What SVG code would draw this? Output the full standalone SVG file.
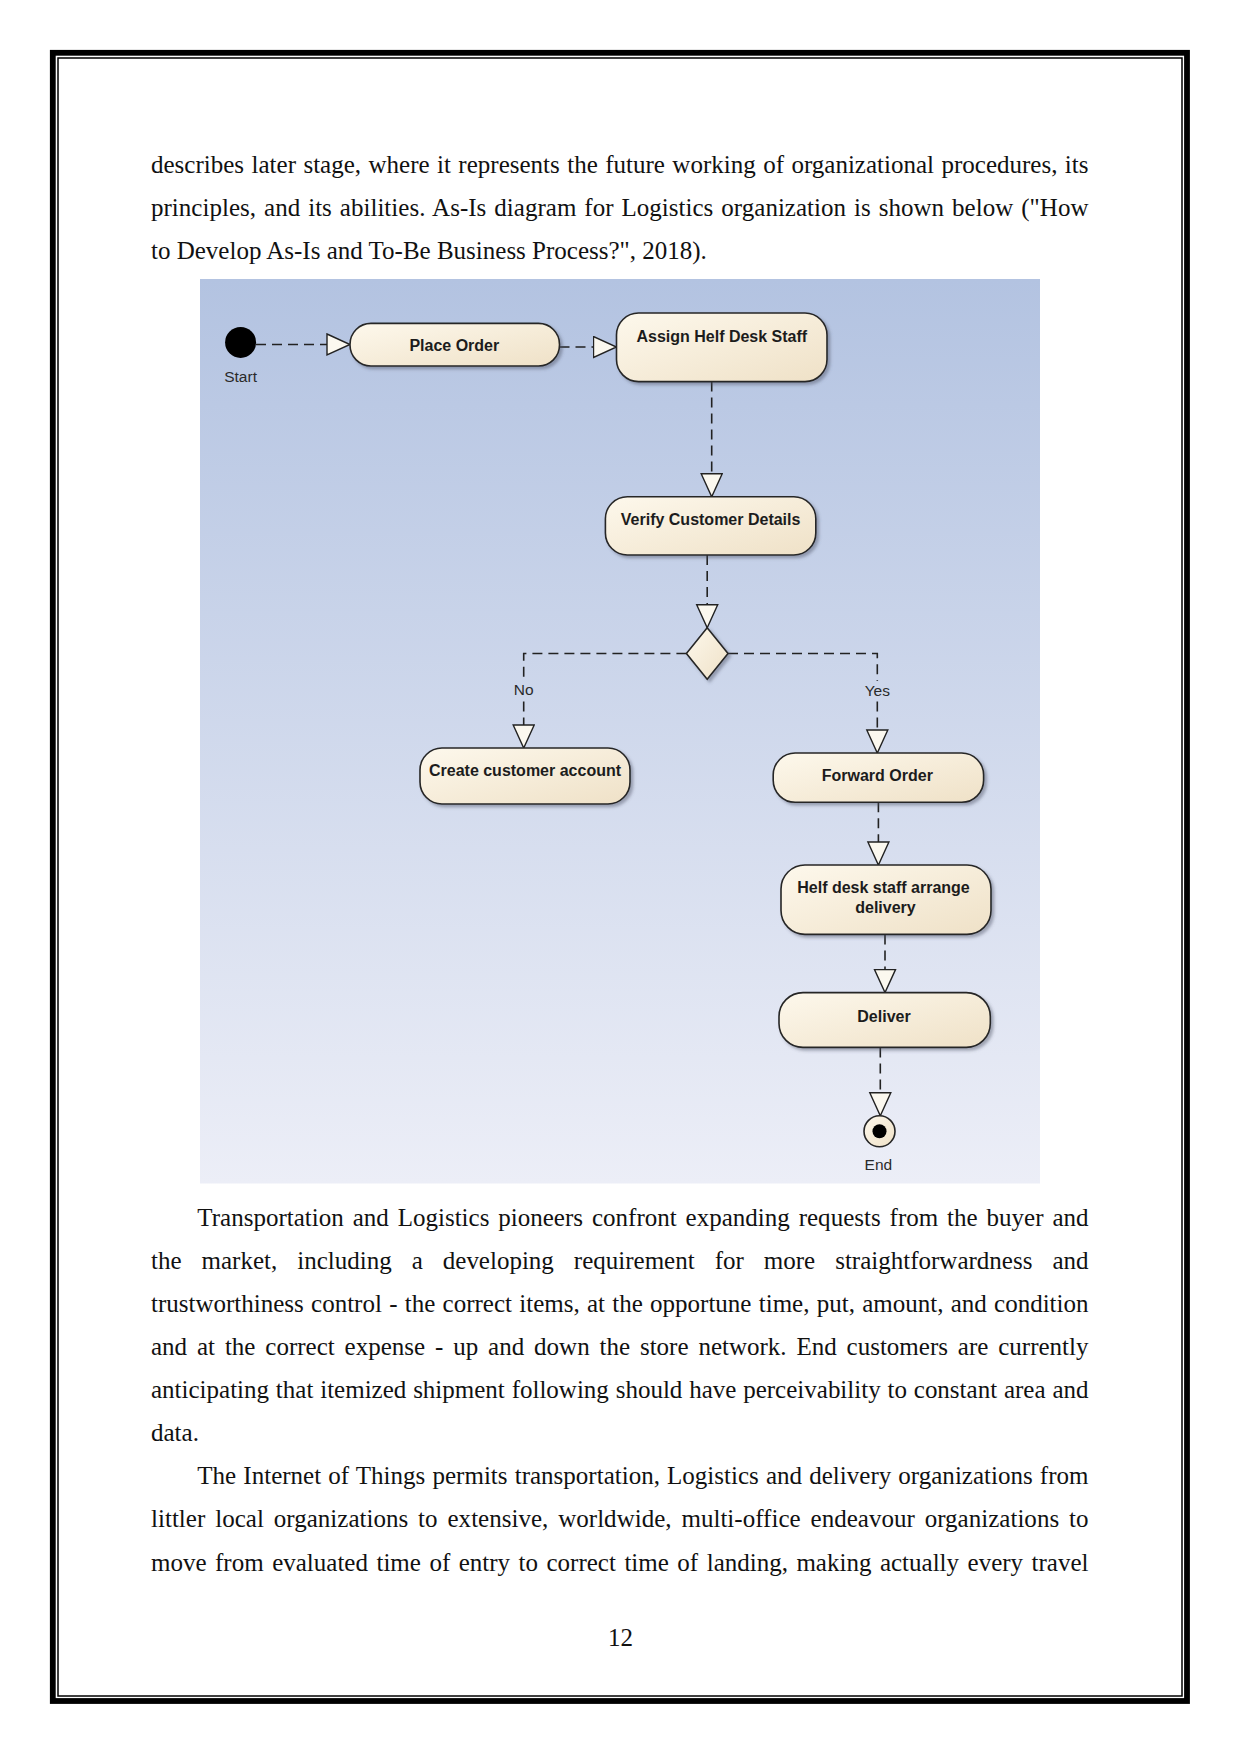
<svg xmlns="http://www.w3.org/2000/svg" width="1241" height="1754" viewBox="0 0 1241 1754">
<style>
.body{font-family:"Liberation Serif","Times New Roman",serif;font-size:25px;fill:#111}
.nt{font-family:"Liberation Sans",Arial,sans-serif;font-size:16px;font-weight:bold;fill:#1c1c1c;text-anchor:middle}
.lbl{font-family:"Liberation Sans",Arial,sans-serif;font-size:15.5px;fill:#2a2a2a;text-anchor:middle}
.node{fill:url(#nodeGrad);stroke:#262626;stroke-width:1.6;filter:url(#sh)}
.flow{fill:none;stroke:#222;stroke-width:1.6;stroke-dasharray:10 6}
.arr{marker-end:url(#tri)}
</style>
<defs>
<linearGradient id="bgGrad" x1="0" y1="0" x2="0" y2="1">
<stop offset="0" stop-color="#b3c3e1"/>
<stop offset="1" stop-color="#eceef7"/>
</linearGradient>
<linearGradient id="nodeGrad" x1="0" y1="0" x2="1" y2="1">
<stop offset="0" stop-color="#fdf8ec"/>
<stop offset="1" stop-color="#efe1c7"/>
</linearGradient>
<filter id="sh" x="-10%" y="-20%" width="130%" height="150%">
<feDropShadow dx="2.5" dy="2.5" stdDeviation="1.5" flood-color="#4a5060" flood-opacity="0.45"/>
</filter>
<marker id="tri" markerUnits="userSpaceOnUse" markerWidth="26" markerHeight="24" refX="23" refY="10.5" orient="auto" viewBox="-1 -1 26 24">
<path d="M0,0 L23,10.5 L0,21 Z" fill="#fbf8ef" stroke="#222" stroke-width="1.4" stroke-dasharray="none" stroke-linejoin="miter"/>
</marker>
</defs>

<g id="page-border">
<rect x="52.8" y="52.8" width="1134.2" height="1648.2" fill="none" stroke="#000" stroke-width="5.8"/>
<rect x="58" y="58" width="1124" height="1638" fill="none" stroke="#000" stroke-width="1.5"/>
</g>

<g id="text-top">
<text class="body" x="151" y="173.3" word-spacing="1.18" textLength="937.5" lengthAdjust="spacing">describes later stage, where it represents the future working of organizational procedures, its</text>
<text class="body" x="151" y="216" word-spacing="1.7" textLength="937.5" lengthAdjust="spacing">principles, and its abilities. As-Is diagram for Logistics organization is shown below ("How</text>
<text class="body" x="151" y="258.9">to Develop As-Is and To-Be Business Process?", 2018).</text>
</g>

<rect id="diagram-bg" x="200" y="279" width="840" height="904.5" fill="url(#bgGrad)"/>

<g id="connectors">
<path class="flow arr" d="M256,344.5 H350"/>
<path class="flow arr" d="M559.5,347 H616.5"/>
<path class="flow arr" d="M711.7,381.6 V496.8"/>
<path class="flow arr" d="M707.2,555 V627.7"/>
<path class="flow" d="M686.4,653.5 H523.7 V679"/>
<path class="flow arr" d="M523.7,701.5 V748"/>
<path class="flow" d="M728,653.5 H877.3 V681"/>
<path class="flow arr" d="M877.3,701.5 V753"/>
<path class="flow arr" d="M878.4,802.3 V865"/>
<path class="flow arr" d="M885,934.4 V992.6"/>
<path class="flow arr" d="M880.3,1047.4 V1115.8"/>
<text class="lbl" x="523.7" y="694.5">No</text>
<text class="lbl" x="877.3" y="695.5">Yes</text>
</g>

<g id="start">
<circle cx="240.6" cy="342.4" r="15.5" fill="#000"/>
<text class="lbl" x="240.6" y="382.4">Start</text>
</g>

<g id="place-order">
<rect class="node" x="350" y="323.4" width="209.5" height="42.6" rx="21" ry="21"/>
<text class="nt" x="454.3" y="350.5">Place Order</text>
</g>

<g id="assign-staff">
<rect class="node" x="616.5" y="313" width="210.5" height="68.6" rx="22" ry="22"/>
<text class="nt" x="721.8" y="341.5">Assign Helf Desk Staff</text>
</g>

<g id="verify-details">
<rect class="node" x="605.4" y="496.8" width="210.4" height="58.2" rx="22" ry="22"/>
<text class="nt" x="710.6" y="525">Verify Customer Details</text>
</g>

<g id="decision">
<path class="node" d="M707.2,627.7 L728,653.5 L707.2,679.3 L686.4,653.5 Z"/>
</g>

<g id="create-account">
<rect class="node" x="420" y="748" width="210" height="56" rx="22" ry="22"/>
<text class="nt" x="525" y="776">Create customer account</text>
</g>

<g id="forward-order">
<rect class="node" x="773.2" y="753" width="210.4" height="49.3" rx="22" ry="22"/>
<text class="nt" x="877.3" y="781">Forward Order</text>
</g>

<g id="arrange-delivery">
<rect class="node" x="781" y="865" width="210" height="69.4" rx="24" ry="24"/>
<text class="nt" x="883.5" y="893.3">Helf desk staff arrange</text>
<text class="nt" x="885.5" y="913">delivery</text>
</g>

<g id="deliver">
<rect class="node" x="779" y="992.6" width="211.3" height="54.8" rx="24" ry="24"/>
<text class="nt" x="884" y="1021.7">Deliver</text>
</g>

<g id="end">
<circle cx="879.5" cy="1131.3" r="15.5" fill="url(#nodeGrad)" stroke="#262626" stroke-width="1.6"/>
<circle cx="879.5" cy="1131.3" r="7" fill="#000"/>
<text class="lbl" x="878.4" y="1170">End</text>
</g>

<g id="text-bottom">
<text class="body" x="197.3" y="1225.7" word-spacing="2.61" textLength="891.2" lengthAdjust="spacing">Transportation and Logistics pioneers confront expanding requests from the buyer and</text>
<text class="body" x="151" y="1268.8" word-spacing="13.75" textLength="937.5" lengthAdjust="spacing">the market, including a developing requirement for more straightforwardness and</text>
<text class="body" x="151" y="1311.9" word-spacing="1.02" textLength="937.5" lengthAdjust="spacing">trustworthiness control - the correct items, at the opportune time, put, amount, and condition</text>
<text class="body" x="151" y="1355" word-spacing="3.63" textLength="937.5" lengthAdjust="spacing">and at the correct expense - up and down the store network. End customers are currently</text>
<text class="body" x="151" y="1398.1" word-spacing="0.58" textLength="937.5" lengthAdjust="spacing">anticipating that itemized shipment following should have perceivability to constant area and</text>
<text class="body" x="151" y="1441.2">data.</text>
<text class="body" x="197.3" y="1484.3" word-spacing="0.87" textLength="891.2" lengthAdjust="spacing">The Internet of Things permits transportation, Logistics and delivery organizations from</text>
<text class="body" x="151" y="1527.4" word-spacing="3.64" textLength="937.5" lengthAdjust="spacing">littler local organizations to extensive, worldwide, multi-office endeavour organizations to</text>
<text class="body" x="151" y="1570.5" word-spacing="2.24" textLength="937.5" lengthAdjust="spacing">move from evaluated time of entry to correct time of landing, making actually every travel</text>
</g>

<text id="page-number" class="body" x="620.5" y="1646" text-anchor="middle">12</text>
</svg>
